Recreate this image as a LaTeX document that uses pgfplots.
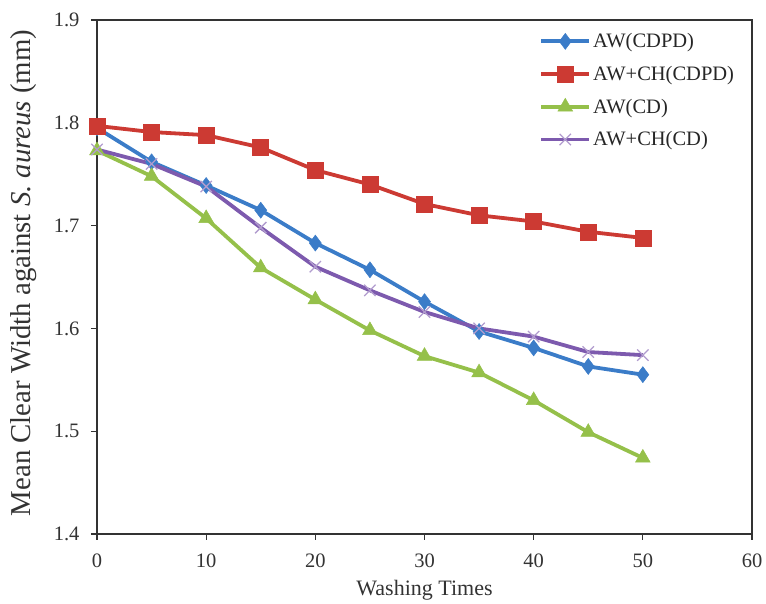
\documentclass[border=0pt]{standalone}
\usepackage{fontspec}
\setmainfont{Liberation Serif}
\usepackage{pgfplots}
\pgfplotsset{compat=1.18}
\definecolor{cblue}{HTML}{3B7CC8}
\definecolor{cred}{HTML}{CC3A33}
\definecolor{cgreen}{HTML}{95C04A}
\definecolor{cpurple}{HTML}{7D5AAE}
\begin{document}
\begin{tikzpicture}
\useasboundingbox (-97pt,-70pt) rectangle (669pt,534pt);
\begin{axis}[
  at={(0pt,0pt)}, anchor=south west,
  scale only axis, width=655pt, height=514pt,
  xmin=0, xmax=60, ymin=1.4, ymax=1.9,
  xtick={0,10,...,60}, ytick={1.4,1.5,...,1.9},
  xtick pos=bottom, ytick pos=left,
  tick align=outside, major tick length=6pt,
  axis line style={line width=1.3pt, black!80},
  tick style={line width=1.3pt, black!80},
  /pgf/number format/assume math mode=true,
  yticklabel style={/pgf/number format/fixed, /pgf/number format/precision=1, /pgf/number format/fixed zerofill},
  ticklabel style={font=\fontsize{20.5}{24}\selectfont, text=black!80},
  xticklabel style={yshift=-10pt},
  yticklabel style={xshift=-8pt},
  xlabel={Washing Times},
  ylabel={Mean Clear Width against \textit{S. aureus} (mm)},
  xlabel style={at={(axis description cs:0.5,-0.109)}, anchor=center, font=\fontsize{22}{26}\selectfont, text=black!80},
  ylabel style={at={(axis description cs:-0.112,0.508)}, anchor=center, font=\fontsize{28.8}{32}\selectfont, text=black!80},
  legend cell align=left,
  legend style={at={(0.976,0.978)}, anchor=north east, draw=none, fill=none,
    font=\fontsize{20.5}{24}\selectfont, row sep=13pt, text=black!85, inner sep=0pt},
  legend image code/.code={
    \draw[mark repeat=2,mark phase=2] plot coordinates {(0pt,0pt) (24pt,0pt) (48pt,0pt)};},
  every axis plot/.append style={line width=3.8pt},
]
\addplot[cblue, mark=diamond*, mark size=8pt, mark options={line width=0.5pt, fill=cblue}] coordinates {
(0,1.795) (5,1.762) (10,1.739) (15,1.715) (20,1.683) (25,1.657) (30,1.626) (35,1.597) (40,1.581) (45,1.563) (50,1.555)};
\addlegendentry{AW(CDPD)}
\addplot[cred, mark=square*, mark size=8pt, mark options={line width=0.5pt, fill=cred}] coordinates {
(0,1.797) (5,1.791) (10,1.788) (15,1.776) (20,1.754) (25,1.740) (30,1.721) (35,1.710) (40,1.704) (45,1.694) (50,1.688)};
\addlegendentry{AW+CH(CDPD)}
\addplot[cgreen, mark=triangle*, mark size=8.5pt, mark options={line width=0.5pt, fill=cgreen}] coordinates {
(0,1.773) (5,1.748) (10,1.707) (15,1.659) (20,1.628) (25,1.598) (30,1.573) (35,1.557) (40,1.530) (45,1.499) (50,1.474)};
\addlegendentry{AW(CD)}
\addplot[cpurple, mark=x, mark size=8pt, mark options={line width=1.3pt, draw=cpurple!60}] coordinates {
(0,1.774) (5,1.760) (10,1.738) (15,1.698) (20,1.660) (25,1.637) (30,1.616) (35,1.600) (40,1.592) (45,1.577) (50,1.574)};
\addlegendentry{AW+CH(CD)}
\end{axis}
\end{tikzpicture}
\end{document}
